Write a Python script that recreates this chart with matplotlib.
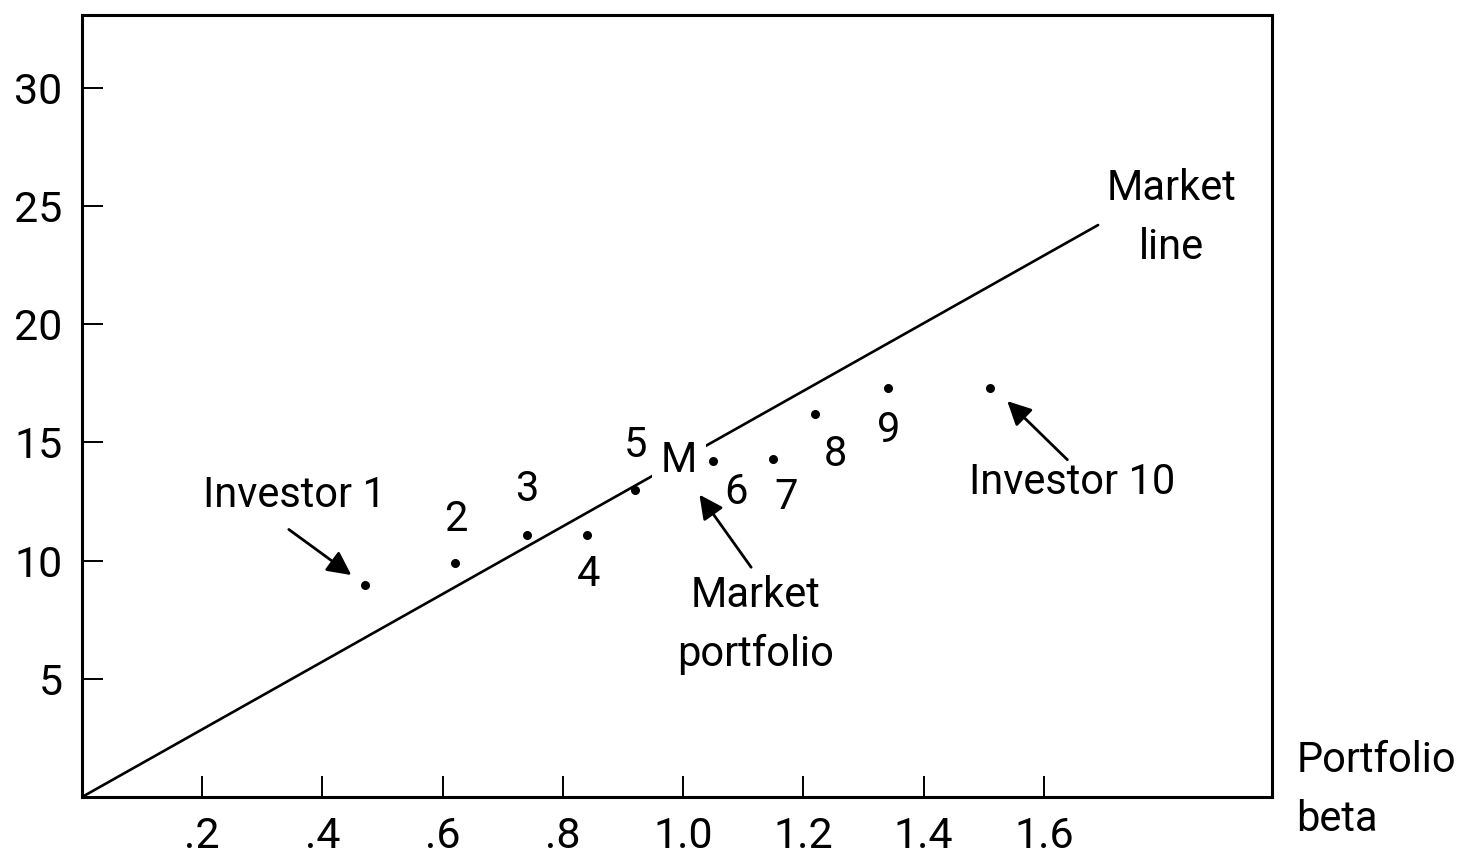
import matplotlib
matplotlib.use("Agg")
import matplotlib.pyplot as plt

plt.rcParams['font.family'] = ['Roboto', 'DejaVu Sans']

# ---- data ----
investor_labels = ["Investor 1", "2", "3", "4", "5", "6", "7", "8", "9", "Investor 10"]
investor_beta = [0.47, 0.62, 0.74, 0.84, 0.92, 1.05, 1.15, 1.22, 1.34, 1.51]
investor_return = [8.95, 9.9, 11.1, 11.1, 13.0, 14.2, 14.3, 16.2, 17.3, 17.3]

market_line_beta = [0.0, 1.69]
market_line_return = [0.0, 24.2]
market_portfolio = (1.0, 14.3)

x_ticks = [0.2, 0.4, 0.6, 0.8, 1.0, 1.2, 1.4, 1.6]
x_tick_labels = [".2", ".4", ".6", ".8", "1.0", "1.2", "1.4", "1.6"]
y_ticks = [5, 10, 15, 20, 25, 30]
y_tick_labels = ["5", "10", "15", "20", "25", "30"]

FS = 30
LS = 1.55

fig = plt.figure(figsize=(14.83, 8.65), dpi=100)
ax = fig.add_axes([0.0553, 0.0786, 0.858 - 0.0553, 0.983 - 0.0786])
ax.set_xlim(0, 1.98)
ax.set_ylim(0, 33.1)

for s in ax.spines.values():
    s.set_linewidth(2.2)
    s.set_color('black')

ax.set_xticks(x_ticks)
ax.set_xticklabels(x_tick_labels)
ax.set_yticks(y_ticks)
ax.set_yticklabels(y_tick_labels)
ax.tick_params(axis='both', direction='in', length=15, width=1.4, labelsize=31, colors='black')
ax.tick_params(axis='x', pad=14)
ax.tick_params(axis='y', pad=14)

# market line
ax.plot(market_line_beta, market_line_return, color='black', lw=1.9, solid_capstyle='round', zorder=2)

# investor portfolios
ax.scatter(investor_beta, investor_return, s=30, color='black', zorder=3)

# labels for the portfolios
label_pos = {
    "Investor 1": (0.354, 12.75),
    "2": (0.622, 11.74),
    "3": (0.740, 13.0),
    "4": (0.842, 9.43),
    "5": (0.920, 14.86),
    "6": (1.088, 12.88),
    "7": (1.171, 12.67),
    "8": (1.253, 14.48),
    "9": (1.341, 15.49),
    "Investor 10": (1.647, 13.3),
}
for lab in investor_labels:
    x, y = label_pos[lab]
    ax.text(x, y, lab, fontsize=FS, ha='center', va='center', zorder=4)

# market portfolio M (breaks the line)
ax.text(market_portfolio[0] - 0.007, market_portfolio[1] - 0.07, "M", fontsize=FS, ha='center', va='center',
        zorder=4, bbox=dict(boxstyle='square,pad=0.2', fc='white', ec='none'))

ax.text(1.121, 7.28, "Market\nportfolio", fontsize=FS, ha='center', va='center', linespacing=LS)
ax.text(1.812, 24.5, "Market\nline", fontsize=FS, ha='center', va='center', linespacing=LS)
ax.text(2.02, 0.3, "Portfolio\nbeta", fontsize=FS, ha='left', va='center', linespacing=LS,
        clip_on=False)

arrow_kw = dict(arrowstyle='-|>', color='black', lw=2.0, mutation_scale=36, shrinkA=0, shrinkB=0)
ax.annotate("", xy=(0.448, 9.39), xytext=(0.344, 11.32), arrowprops=arrow_kw)
ax.annotate("", xy=(1.027, 12.79), xytext=(1.113, 9.72), arrowprops=arrow_kw)
ax.annotate("", xy=(1.539, 16.75), xytext=(1.639, 14.27), arrowprops=arrow_kw)

fig.savefig("out.png", dpi=100)
